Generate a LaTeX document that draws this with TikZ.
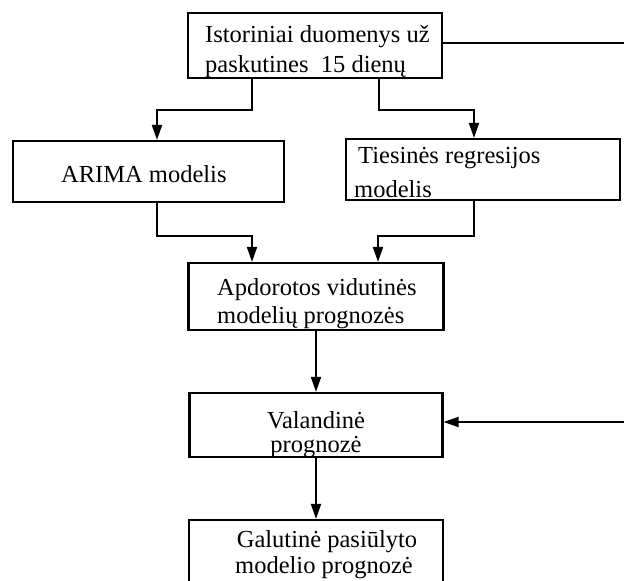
\documentclass[tikz,border=0pt]{standalone}
\usepackage{fontspec}
\setmainfont{Liberation Serif}
\usetikzlibrary{arrows.meta}
\begin{document}
\begin{tikzpicture}[x=1pt,y=-1pt,
  box/.style={draw=black,line width=2.2pt,rectangle,inner sep=0pt,fill=white},
  txt/.style={inner sep=0pt,font=\fontsize{24.5}{28}\selectfont},
  conn/.style={draw=black,line width=2pt},
  arr/.style={conn,-{Triangle[length=15pt,width=10pt]}}]
\useasboundingbox (0,0) rectangle (624,581);
\clip (0,0) rectangle (624,581);
\fill[white] (0,0) rectangle (624,581);
% boxes
\node[box,minimum width=254pt,minimum height=65pt] (top) at (315,45.5) {};
\node[box,minimum width=271pt,minimum height=61pt] (arima) at (148.5,171.5) {};
\node[box,minimum width=274pt,minimum height=61pt] (reg) at (483,169.5) {};
\node[box,minimum width=255pt,minimum height=67pt] (apd) at (316,296.5) {};
\node[box,minimum width=253pt,minimum height=64pt] (val) at (316,425) {};
\node[box,minimum width=254pt,minimum height=75pt] (gal) at (316,557.5) {};
% texts
\node[txt,anchor=base west] (t1a) at (205,42) {Istoriniai duomenys už};
\node[txt,anchor=base west] (t1b) at (205,72) {paskutines\ \ 15 dienų};
\node[txt,anchor=base west] (t2) at (61,182) {ARIMA modelis};
\node[txt,anchor=base west] (t3a) at (358,163) {Tiesinės regresijos};
\node[txt,anchor=base west] (t3b) at (354,197) {modelis};
\node[txt,anchor=base west] (t4a) at (217,295) {Apdorotos vidutinės};
\node[txt,anchor=base west] (t4b) at (217,323) {modelių prognozės};
\node[txt,anchor=base] (t5a) at (316,428) {Valandinė};
\node[txt,anchor=base] (t5b) at (316,452) {prognozė};
\node[txt,anchor=base] (t6a) at (327,547) {Galutinė pasiūlyto};
\node[txt,anchor=base] (t6b) at (324,573) {modelio prognozė};
% edge coordinates
\coordinate (e1) at (624,43);
\coordinate (e2) at (624,422);
% connectors
\draw[arr] ([xshift=-63pt]top.south) -- ++(0,31) -| ([xshift=8.5pt]arima.north);
\draw[arr] ([xshift=64pt]top.south) -- ++(0,31) -| ([xshift=-9pt]reg.north);
\draw[arr] ([xshift=8.5pt]arima.south) -- ++(0,33) -| ([xshift=-64pt]apd.north);
\draw[arr] ([xshift=-9pt]reg.south) -- ++(0,35) -| ([xshift=62pt]apd.north);
\draw[arr] (apd.south) -- (val.north);
\draw[arr] (val.south) -- (gal.north);
\draw[conn] (top.east |- e1) -- (e1);
\draw[arr] (e2) -- (val.east |- e2);
\end{tikzpicture}
\end{document}
